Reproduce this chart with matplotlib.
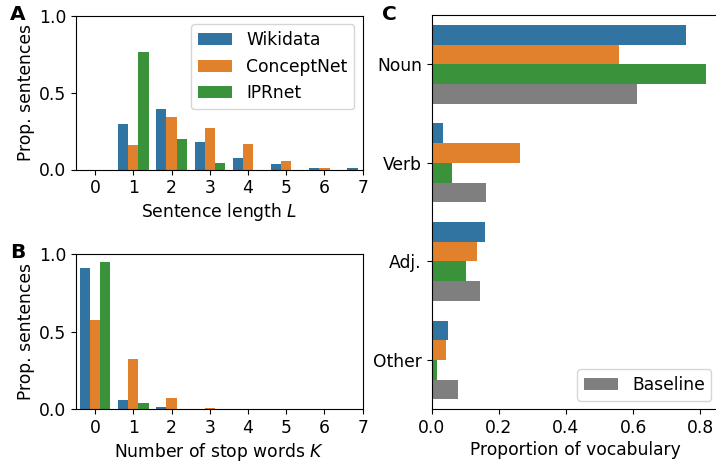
import numpy as np
import matplotlib
matplotlib.use("Agg")
import matplotlib.pyplot as plt

plt.rcParams['font.size'] = 12.3
plt.rcParams['axes.labelpad'] = 3

sources = ["Wikidata", "ConceptNet", "IPRnet"]
colors = ["#3274a1", "#e1812c", "#3a923a"]
base_color = "#7f7f7f"

lengths = [0, 1, 2, 3, 4, 5, 6, 7]
len_wikidata = [0.0, 0.296, 0.393, 0.179, 0.075, 0.036, 0.008, 0.008]
len_conceptnet = [0.0, 0.159, 0.341, 0.270, 0.166, 0.055, 0.008, 0.0]
len_iprnet = [0.0, 0.764, 0.198, 0.042, 0.0, 0.0, 0.0, 0.0]

stops = [0, 1, 2, 3, 4, 5, 6, 7]
stop_wikidata = [0.912, 0.060, 0.015, 0.002, 0.001, 0.0, 0.0, 0.0]
stop_conceptnet = [0.576, 0.325, 0.073, 0.009, 0.002, 0.001, 0.0, 0.0]
stop_iprnet = [0.951, 0.041, 0.002, 0.0, 0.0, 0.0, 0.0, 0.0]

pos_tags = ["Noun", "Verb", "Adj.", "Other"]
pos_wikidata = [0.758, 0.034, 0.159, 0.049]
pos_conceptnet = [0.558, 0.263, 0.135, 0.043]
pos_iprnet = [0.818, 0.061, 0.102, 0.016]
pos_baseline = [0.612, 0.162, 0.144, 0.079]

W, H = 716, 463
fig = plt.figure(figsize=(W/100, H/100), dpi=100)

def px(l, t, r, b):
    return [l/W, 1-b/H, (r-l)/W, (b-t)/H]

axA = fig.add_axes(px(76, 15.7, 362.7, 169.5))
axB = fig.add_axes(px(76, 254.3, 362.7, 409.3))
axC = fig.add_axes(px(431.7, 15, 720, 409.3))

bw = 0.8/3
for ax, xs, series in [(axA, lengths, [len_wikidata, len_conceptnet, len_iprnet]),
                       (axB, stops, [stop_wikidata, stop_conceptnet, stop_iprnet])]:
    x = np.array(xs)
    for i, (vals, c, lab) in enumerate(zip(series, colors, sources)):
        ax.bar(x + (i-1)*bw, vals, width=bw, color=c, label=lab)
    ax.set_xlim(-0.5, 7)
    ax.set_ylim(0, 1.0)
    ax.set_xticks(xs)
    ax.set_yticks([0.0, 0.5, 1.0])
    ax.set_ylabel("Prop. sentences")

axA.set_xlabel("Sentence length $L$")
axB.set_xlabel("Number of stop words $K$")
axA.legend(loc="upper right")

y = np.arange(len(pos_tags))
bh = 0.8/4
for i, (vals, c) in enumerate(zip([pos_wikidata, pos_conceptnet, pos_iprnet, pos_baseline],
                                  colors + [base_color])):
    axC.barh(y + (i-1.5)*bh, vals, height=bh, color=c,
             label="Baseline" if i == 3 else None)
axC.set_yticks(y)
axC.set_yticklabels(pos_tags)
axC.set_ylim(3.5, -0.5)
axC.set_xlim(0, 0.859)
axC.set_xticks([0.0, 0.2, 0.4, 0.6, 0.8])
axC.set_xlabel("Proportion of vocabulary")
axC.legend(loc="lower right")

fig.text(10/W, 1-20/H, "A", fontsize=14.5, fontweight="bold")
fig.text(10/W, 1-258/H, "B", fontsize=14.5, fontweight="bold")
fig.text(382/W, 1-20/H, "C", fontsize=14.5, fontweight="bold")

fig.savefig("out.png", dpi=100)
